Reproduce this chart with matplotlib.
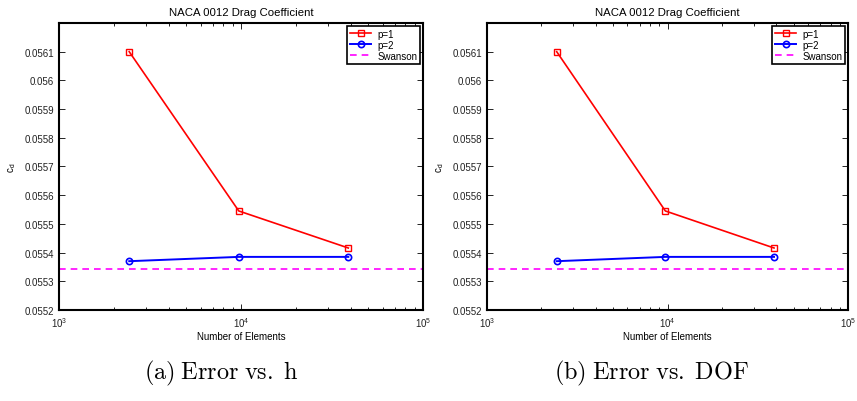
import numpy as np
import matplotlib
matplotlib.use("Agg")
import matplotlib.pyplot as plt

plt.rcParams['font.family'] = ['Liberation Sans', 'DejaVu Sans']
plt.rcParams['mathtext.fontset'] = 'cm'

# data
n_elems = [2432, 9728, 38912]
cd_p1 = [0.05610, 0.055545, 0.055416]
cd_p2 = [0.055370, 0.055385, 0.055385]
cd_swanson = 0.055343
yticks = [0.0552, 0.0553, 0.0554, 0.0555, 0.0556, 0.0557, 0.0558, 0.0559, 0.056, 0.0561]
ytick_labels = ['0.0552', '0.0553', '0.0554', '0.0555', '0.0556', '0.0557',
                '0.0558', '0.0559', '0.056', '0.0561']
captions = [r'$\mathrm{(a)\;Error\;vs.\;h}$', r'$\mathrm{(b)\;Error\;vs.\;DOF}$']

fig = plt.figure(figsize=(8.57, 4.02), dpi=100)
axes_rects = [[0.0688, 0.2264, 0.4247, 0.714], [0.5683, 0.2264, 0.4212, 0.714]]
caption_x = [0.258, 0.760]

for rect, cap, cx in zip(axes_rects, captions, caption_x):
    ax = fig.add_axes(rect)
    ax.plot(n_elems, cd_p1, color='red', marker='s', markersize=4.5,
            markerfacecolor='none', markeredgewidth=1.0, lw=1.2, label='p=1')
    ax.plot(n_elems, cd_p2, color='blue', marker='o', markersize=4.5,
            markerfacecolor='none', markeredgewidth=1.2, lw=1.4, label='p=2')
    ax.axhline(cd_swanson, color='magenta', ls='--', lw=1.2, dashes=(4, 3),
               label='Swanson')
    ax.set_xscale('log')
    ax.set_xlim(1e3, 1e5)
    ax.set_ylim(0.0552, 0.0562)
    ax.set_yticks(yticks)
    ax.set_yticklabels(ytick_labels)
    ax.tick_params(which='both', direction='in', top=True, right=True,
                   labelsize=7, colors='black', labelcolor='#222222')
    ax.tick_params(which='major', length=4, width=0.6)
    ax.tick_params(which='minor', length=2.5, width=0.6)
    for s in ax.spines.values():
        s.set_linewidth(1.5)
    ax.set_title('NACA 0012 Drag Coefficient', fontsize=8.2, pad=6)
    ax.set_xlabel('Number of Elements', fontsize=7, labelpad=2)
    ax.set_ylabel('c$_\\mathregular{d}$', fontsize=7, labelpad=5)
    leg = ax.legend(loc='upper right', fontsize=7, fancybox=False,
                    framealpha=1, edgecolor='black', borderpad=0.3,
                    labelspacing=0.1, handlelength=2.2, handletextpad=0.6,
                    borderaxespad=0.3)
    leg.get_frame().set_linewidth(1.2)
    fig.text(cx, 0.07, cap, ha='center', va='center', fontsize=17.5)

fig.savefig('out.png', dpi=100)
